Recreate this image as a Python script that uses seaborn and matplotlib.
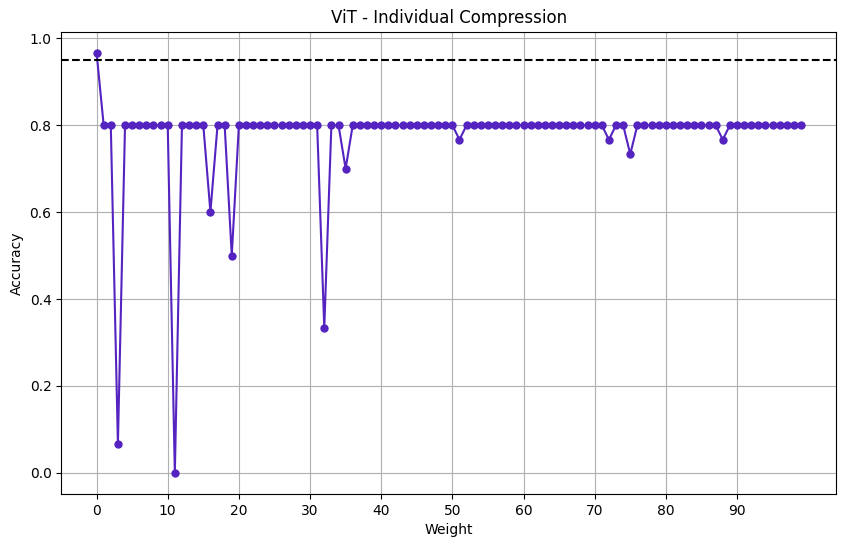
import numpy as np
import pandas as pd
import matplotlib
matplotlib.use("Agg")
import matplotlib.pyplot as plt
import seaborn as sns

weights = list(range(100))
accuracy = [0.8] * 100
dips = {0: 0.9667, 3: 0.0667, 11: 0.0, 16: 0.6, 19: 0.5, 32: 0.3333,
        35: 0.7, 51: 0.7667, 72: 0.7667, 75: 0.7333, 88: 0.7667}
for k, v in dips.items():
    accuracy[k] = v
threshold = 0.95
xticks = list(range(0, 100, 10))

df = pd.DataFrame({"Weight": weights, "Accuracy": accuracy})

fig = plt.figure(figsize=(8.46, 5.47), dpi=100)
ax = fig.add_axes([0.0725, 0.097, 0.916, 0.845])
color = "#5423C0"
sns.lineplot(data=df, x="Weight", y="Accuracy", ax=ax, color=color,
             marker="o", markersize=6, markeredgewidth=0, linewidth=1.5)
ax.axhline(threshold, color="black", linestyle="--", linewidth=1.5)
ax.set_xticks(xticks)
ax.grid(True, color="#b0b0b0", linewidth=0.8)
ax.set_axisbelow(True)
ax.set_title("ViT - Individual Compression")
ax.set_xlabel("Weight")
ax.set_ylabel("Accuracy")
fig.savefig("out.png", dpi=100)
